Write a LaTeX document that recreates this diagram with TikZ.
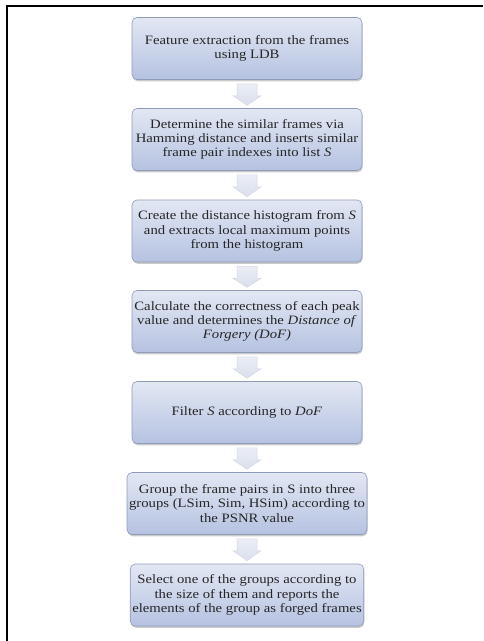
\documentclass[tikz,border=0pt]{standalone}
\usepackage{fontspec}
\setmainfont{Liberation Serif}[FakeStretch=1.15]
\usetikzlibrary{calc,shadows}
\definecolor{boxtop}{HTML}{E2E7F3}
\definecolor{boxbot}{HTML}{B5C2E1}
\definecolor{boxline}{HTML}{8E9BB8}
\definecolor{arrtop}{HTML}{EBEEF6}
\definecolor{arrbot}{HTML}{D9DFEC}
\definecolor{arrline}{HTML}{D3D8E3}
\tikzset{
  stepbox/.style={rounded corners=5pt, draw=boxline, line width=0.6pt,
    top color=boxtop, bottom color=boxbot,
    minimum width=230pt, minimum height=62pt, inner sep=2pt,
    align=center, font=\fontsize{12.8}{14.2}\selectfont, text=black!85,
    drop shadow={shadow xshift=0.6pt, shadow yshift=-1.8pt, opacity=0.35, fill=black!60}},
  blockarrow/.style={top color=arrtop, bottom color=arrbot, draw=arrline, line width=0.5pt},
  frameline/.style={line width=2pt, black}
}
\begin{document}
\begin{tikzpicture}[x=1pt,y=1pt]
\useasboundingbox (0,0) rectangle (483,-641);
\draw[frameline] (7,-641) -- (7,-6) -- (483,-6);
\node[stepbox] (b1) at (247,-48.5) {Feature extraction from the frames\\using LDB};
\node[stepbox] (b2) at (247,-139.5) {Determine the similar frames via\\Hamming distance and inserts similar\\frame pair indexes into list \textit{S}};
\node[stepbox] (b3) at (247,-231) {Create the distance histogram from \textit{S}\\and extracts local maximum points\\from the histogram};
\node[stepbox] (b4) at (247,-321.5) {Calculate the correctness of each peak\\value and determines the \textit{Distance of}\\\textit{Forgery (DoF)}};
\node[stepbox] (b5) at (247,-412.5) {Filter \textit{S} according to \textit{DoF}};
\node[stepbox] (b6) at (247,-503.5) {Group the frame pairs in S into three\\groups (LSim, Sim, HSim) according to\\the PSNR value};
\node[stepbox] (b7) at (247,-595) {Select one of the groups according to\\the size of them and reports the\\elements of the group as forged frames};
\foreach \a/\b in {b1/b2,b2/b3,b3/b4,b4/b5,b5/b6,b6/b7}{
  \path[blockarrow] ($(\a.south)+(-10,-4)$) -- ($(\a.south)+(10,-4)$)
    -- ($(\a.south)+(10,-16)$) -- ($(\a.south)+(14,-16)$)
    -- ($(\b.north)+(0,3)$) -- ($(\a.south)+(-14,-16)$)
    -- ($(\a.south)+(-10,-16)$) -- cycle;
}
\end{tikzpicture}
\end{document}
